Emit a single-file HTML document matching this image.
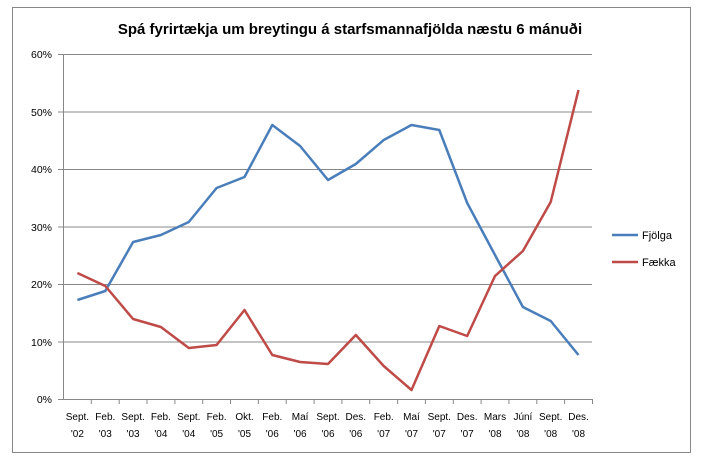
<!DOCTYPE html>
<html><head><style>body{margin:0;background:#fff}svg{display:block}text{font-family:"Liberation Sans",sans-serif}</style></head><body>
<svg width="701" height="462" xmlns="http://www.w3.org/2000/svg">
<rect x="0" y="0" width="701" height="462" fill="#fff"/>
<rect x="12.5" y="7.5" width="678" height="445" fill="#fff" stroke="#888" stroke-width="1"/>
<text x="350" y="34" font-size="15" font-weight="bold" text-anchor="middle" fill="#000">Spá fyrirtækja um breytingu á starfsmannafjölda næstu 6 mánuði</text>
<g stroke="#888" stroke-width="1">
<line x1="58" y1="54.5" x2="592" y2="54.5"/>
<line x1="58" y1="112" x2="592" y2="112"/>
<line x1="58" y1="169.5" x2="592" y2="169.5"/>
<line x1="58" y1="227" x2="592" y2="227"/>
<line x1="58" y1="284.5" x2="592" y2="284.5"/>
<line x1="58" y1="342" x2="592" y2="342"/>
<line x1="58" y1="399.5" x2="592" y2="399.5"/>
<line x1="63.5" y1="54" x2="63.5" y2="400"/>
<line x1="91.3" y1="399" x2="91.3" y2="404"/><line x1="119.2" y1="399" x2="119.2" y2="404"/><line x1="147" y1="399" x2="147" y2="404"/><line x1="174.9" y1="399" x2="174.9" y2="404"/><line x1="202.7" y1="399" x2="202.7" y2="404"/><line x1="230.5" y1="399" x2="230.5" y2="404"/><line x1="258.4" y1="399" x2="258.4" y2="404"/><line x1="286.2" y1="399" x2="286.2" y2="404"/><line x1="314.1" y1="399" x2="314.1" y2="404"/><line x1="341.9" y1="399" x2="341.9" y2="404"/><line x1="369.7" y1="399" x2="369.7" y2="404"/><line x1="397.6" y1="399" x2="397.6" y2="404"/><line x1="425.4" y1="399" x2="425.4" y2="404"/><line x1="453.3" y1="399" x2="453.3" y2="404"/><line x1="481.1" y1="399" x2="481.1" y2="404"/><line x1="508.9" y1="399" x2="508.9" y2="404"/><line x1="536.8" y1="399" x2="536.8" y2="404"/><line x1="564.6" y1="399" x2="564.6" y2="404"/><line x1="592.5" y1="399" x2="592.5" y2="404"/>
</g>
<g font-size="10.5" fill="#000" text-anchor="end">
<text x="52" y="58">60%</text><text x="52" y="116">50%</text><text x="52" y="173">40%</text><text x="52" y="231">30%</text><text x="52" y="288">20%</text><text x="52" y="346">10%</text><text x="52" y="403">0%</text>
</g>
<g font-size="10" fill="#000" text-anchor="middle">
<text x="77.4" y="420">Sept.</text><text x="77.4" y="437">'02</text>
<text x="105.3" y="420">Feb.</text><text x="105.3" y="437">'03</text>
<text x="133.1" y="420">Sept.</text><text x="133.1" y="437">'03</text>
<text x="160.9" y="420">Feb.</text><text x="160.9" y="437">'04</text>
<text x="188.8" y="420">Sept.</text><text x="188.8" y="437">'04</text>
<text x="216.6" y="420">Feb.</text><text x="216.6" y="437">'05</text>
<text x="244.5" y="420">Okt.</text><text x="244.5" y="437">'05</text>
<text x="272.3" y="420">Feb.</text><text x="272.3" y="437">'06</text>
<text x="300.1" y="420">Maí</text><text x="300.1" y="437">'06</text>
<text x="328" y="420">Sept.</text><text x="328" y="437">'06</text>
<text x="355.8" y="420">Des.</text><text x="355.8" y="437">'06</text>
<text x="383.7" y="420">Feb.</text><text x="383.7" y="437">'07</text>
<text x="411.5" y="420">Maí</text><text x="411.5" y="437">'07</text>
<text x="439.3" y="420">Sept.</text><text x="439.3" y="437">'07</text>
<text x="467.2" y="420">Des.</text><text x="467.2" y="437">'07</text>
<text x="495" y="420">Mars</text><text x="495" y="437">'08</text>
<text x="522.9" y="420">Júní</text><text x="522.9" y="437">'08</text>
<text x="550.7" y="420">Sept.</text><text x="550.7" y="437">'08</text>
<text x="578.5" y="420">Des.</text><text x="578.5" y="437">'08</text>
</g>
<polyline fill="none" stroke="#4a7ebb" stroke-width="2.5" stroke-linejoin="round" points="77.4,300 105.3,291 133.1,242 160.9,235 188.8,222 216.6,188 244.5,177 272.3,125 300.1,146 328,180 355.8,164 383.7,140 411.5,125 439.3,130 467.2,203 495,255 522.9,307 550.7,321 578.5,355"/>
<polyline fill="none" stroke="#be4b48" stroke-width="2.5" stroke-linejoin="round" points="77.4,273 105.3,286 133.1,319 160.9,327 188.8,348 216.6,345 244.5,310 272.3,355 300.1,362 328,364 355.8,335 383.7,366 411.5,390 439.3,326 467.2,336 495,276 522.9,251 550.7,202 578.5,90"/>
<line x1="612" y1="235" x2="638" y2="235" stroke="#4a7ebb" stroke-width="2.5"/>
<text x="642" y="239" font-size="11">Fjölga</text>
<line x1="612" y1="262" x2="638" y2="262" stroke="#be4b48" stroke-width="2.5"/>
<text x="642" y="266" font-size="11">Fækka</text>
</svg>
</body></html>
